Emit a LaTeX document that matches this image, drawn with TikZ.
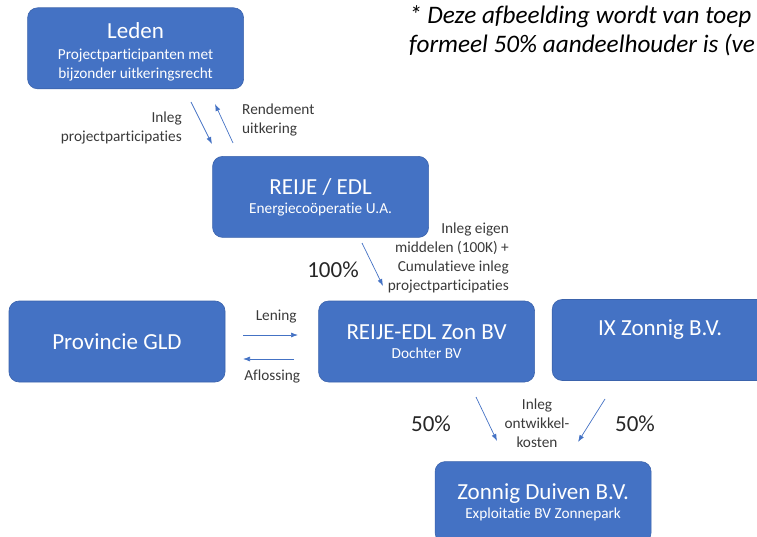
\documentclass[tikz,border=0pt]{standalone}
\usepackage{fontspec}
\setmainfont{Carlito}[RawFeature=-liga]
\usetikzlibrary{positioning, arrows.meta}

\definecolor{boxblue}{HTML}{4472C4}
\definecolor{boxedge}{HTML}{3B63AC}
\definecolor{labeltext}{HTML}{3A3A3A}
\newcommand{\titlefont}{\fontsize{23}{28}\selectfont}
\newcommand{\subfont}{\fontsize{15.3}{19}\selectfont}

\begin{document}
\begin{tikzpicture}[
  x=1pt, y=-1pt,
  >={Latex[length=7pt,width=5pt]},
  entity/.style={draw=boxedge, line width=0.6pt, fill=boxblue, rounded corners=10pt, minimum width=216pt, minimum height=81pt, text=white, align=center, font=\subfont, inner sep=2pt},
  flow/.style={->, boxblue, line width=0.7pt},
  lbl/.style={font=\fontsize{15.3}{19}\selectfont, text=labeltext, inner sep=1pt},
  pct/.style={font=\fontsize{23}{27}\selectfont, text=black!85, inner sep=0pt},
  remark/.style={font=\fontsize{25.2}{29}\selectfont\itshape, align=left, inner sep=0pt}
]
\useasboundingbox (0,0) rectangle (757,537);
\clip (0,0) rectangle (757,537);

% entities
\node[entity] (Prov) at (117,341.5) {\titlefont Provincie GLD};
\node[entity] (ZonBV) [right=93pt of Prov] {{\titlefont REIJE-EDL Zon BV}\\Dochter BV};
\node[entity] (IX) [right=17pt of ZonBV, yshift=1.5pt] {{\titlefont IX Zonnig B.V.}\\\strut};
\node[entity] (REIJE) [above=63pt of ZonBV, xshift=-106pt] {{\titlefont REIJE / EDL}\\Energiecoöperatie U.A.};
\node[entity] (Leden) [above=67pt of REIJE, xshift=-185pt] {{\titlefont\rule{0pt}{23pt}Leden}\\[2pt]Projectparticipanten met\\bijzonder uitkeringsrecht};
\node[entity] (Duiven) [below=79pt of ZonBV, xshift=116.5pt] {{\titlefont Zonnig Duiven B.V.}\\Exploitatie BV Zonnepark};

\node[remark, anchor=north west] (Note) at (409,5) {* Deze afbeelding wordt van toep\\formeel 50\% aandeelhouder is (ve};

% arrow ends
\coordinate (inlegA) at (191,102);
\coordinate (inlegB) at (212,144);
\coordinate (rendA) at (233,143);
\coordinate (rendB) at (215,104);
\coordinate (eigenA) at (362,243);
\coordinate (eigenB) at (383,286);
\coordinate (lenA) at (243,335);
\coordinate (lenB) at (298,335);
\coordinate (aflA) at (294,359);
\coordinate (aflB) at (243,359);
\coordinate (ontwA) at (476,397);
\coordinate (ontwB) at (497,441);
\coordinate (ixA) at (605,399);
\coordinate (ixB) at (578,442);

% labels
\node[lbl, align=right, anchor=east] (InlegPP) at (183,128) {Inleg\\projectparticipaties};
\node[lbl, align=left, anchor=west] (Rend) at (241,120) {Rendement\\uitkering};
\node[lbl, align=right, anchor=east] (InlegEigen) at (510,258) {Inleg eigen\\middelen (100K) +\\Cumulatieve inleg\\projectparticipaties};
\node[pct] (P100) at (333,270) {100\%};
\node[lbl, align=center] (InlegOK) at (537,423) {Inleg\\ontwikkel-\\kosten};
\node[pct] (P50a) at (431,424) {50\%};
\node[pct] (P50b) at (635,424) {50\%};

\draw[flow] (inlegA) -- (inlegB);
\draw[flow] (rendA) -- (rendB);
\draw[flow] (eigenA) -- (eigenB);
\draw[flow] (lenA) -- (lenB) node[lbl, at end, anchor=east, yshift=18pt]{Lening};
\draw[flow] (aflA) -- (aflB) node[lbl, at end, anchor=west, yshift=-18pt]{Aflossing};
\draw[flow] (ontwA) -- (ontwB);
\draw[flow] (ixA) -- (ixB);
\end{tikzpicture}
\end{document}
